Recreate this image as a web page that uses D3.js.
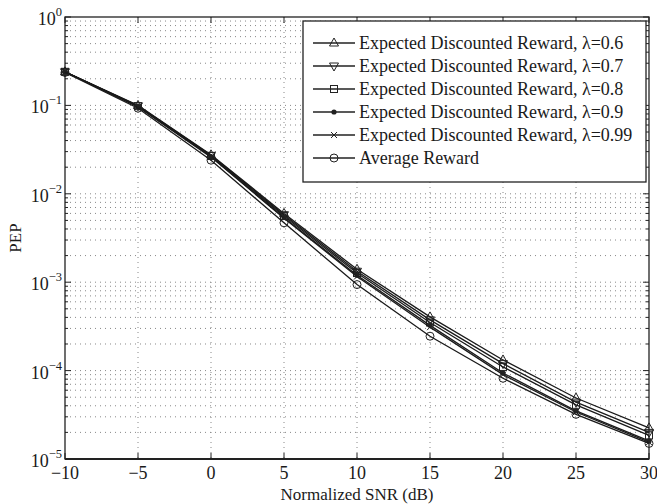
<!DOCTYPE html>
<html>
<head>
<meta charset="utf-8">
<script src="https://cdn.jsdelivr.net/npm/d3@7"></script>
<style>
  body { margin: 0; background: #fff; }
  text { font-family: "Liberation Serif", "Times New Roman", serif; fill: #1a1a1a; }
</style>
</head>
<body>
<div id="chart"></div>
<script>
// data
var snr = [-10, -5, 0, 5, 10, 15, 20, 25, 30];
var seriesNames = [
  "Expected Discounted Reward, λ=0.6",
  "Expected Discounted Reward, λ=0.7",
  "Expected Discounted Reward, λ=0.8",
  "Expected Discounted Reward, λ=0.9",
  "Expected Discounted Reward, λ=0.99",
  "Average Reward"
];
var markers = ["triUp", "triDown", "square", "dot", "cross", "circle"];
var pep06 = [0.240, 0.100, 0.0276, 0.0060, 0.00140, 0.000405, 1.32e-4, 4.9e-5, 2.25e-5];
var pep07 = [0.240, 0.099, 0.0272, 0.0058, 0.00133, 0.000375, 1.20e-4, 4.4e-5, 2.00e-5];
var pep08 = [0.240, 0.098, 0.0268, 0.0056, 0.00127, 0.000350, 1.10e-4, 4.1e-5, 1.85e-5];
var pep09 = [0.240, 0.097, 0.0264, 0.0054, 0.00120, 0.000325, 9.4e-5, 3.5e-5, 1.60e-5];
var pep099 = [0.240, 0.096, 0.0260, 0.0053, 0.00116, 0.000310, 9.0e-5, 3.4e-5, 1.55e-5];
var pepAvg = [0.236, 0.093, 0.0240, 0.0047, 0.00094, 0.000245, 8.2e-5, 3.2e-5, 1.50e-5];
var allSeries = [pep06, pep07, pep08, pep09, pep099, pepAvg];
var xTicks = [-10, -5, 0, 5, 10, 15, 20, 25, 30];
var yExps = [0, -1, -2, -3, -4, -5];

var width = 657, height = 504;
var margin = { top: 17, right: 8, bottom: 45, left: 65 };

var svg = d3.select("#chart").append("svg")
  .attr("width", width).attr("height", height);

var x = d3.scaleLinear().domain([-10, 30]).range([margin.left, width - margin.right]);
var y = d3.scaleLog().domain([1e-5, 1]).range([height - margin.bottom, margin.top]);

var x0 = x.range()[0], x1 = x.range()[1];
var yb = y.range()[0], yt = y.range()[1];

// grid
var minorVals = [];
for (var e = -5; e < 0; e++) {
  for (var m = 1; m <= 9; m++) minorVals.push(m * Math.pow(10, e));
}
minorVals.push(1);

svg.append("g").selectAll("line").data(minorVals.filter(function (v) { return v > 1e-5 && v < 1; }))
  .enter().append("line")
  .attr("x1", x0).attr("x2", x1)
  .attr("y1", function (d) { return y(d); }).attr("y2", function (d) { return y(d); })
  .attr("stroke", "#888").attr("stroke-width", 1)
  .attr("stroke-dasharray", "1,4");

svg.append("g").selectAll("line").data(xTicks.slice(1, -1))
  .enter().append("line")
  .attr("x1", function (d) { return x(d); }).attr("x2", function (d) { return x(d); })
  .attr("y1", yt).attr("y2", yb)
  .attr("stroke", "#888").attr("stroke-width", 1)
  .attr("stroke-dasharray", "1,4");

// tick marks
var tickG = svg.append("g").attr("stroke", "#222").attr("stroke-width", 1);
minorVals.forEach(function (v) {
  var isMajor = Math.abs(Math.log10(v) - Math.round(Math.log10(v))) < 1e-9;
  var len = isMajor ? 6 : 3;
  tickG.append("line").attr("x1", x0).attr("x2", x0 + len).attr("y1", y(v)).attr("y2", y(v));
  tickG.append("line").attr("x1", x1).attr("x2", x1 - len).attr("y1", y(v)).attr("y2", y(v));
});
xTicks.forEach(function (t) {
  tickG.append("line").attr("x1", x(t)).attr("x2", x(t)).attr("y1", yb).attr("y2", yb - 6);
  tickG.append("line").attr("x1", x(t)).attr("x2", x(t)).attr("y1", yt).attr("y2", yt + 6);
});

// box
svg.append("rect")
  .attr("x", x0).attr("y", yt).attr("width", x1 - x0).attr("height", yb - yt)
  .attr("fill", "none").attr("stroke", "#222").attr("stroke-width", 1.3);
svg.append("line").attr("x1", x0).attr("x2", x1).attr("y1", yb).attr("y2", yb)
  .attr("stroke", "#222").attr("stroke-width", 2);

// tick labels
svg.append("g").selectAll("text").data(xTicks).enter().append("text")
  .attr("x", function (d) { return x(d); })
  .attr("y", yb + 20)
  .attr("text-anchor", "middle")
  .attr("font-size", 18)
  .text(function (d) { return d < 0 ? "\u2212" + Math.abs(d) : d; });

var yLab = svg.append("g").selectAll("text").data(yExps).enter().append("text")
  .attr("x", x0 - 3)
  .attr("y", function (d) { return y(Math.pow(10, d)) + 8; })
  .attr("text-anchor", "end")
  .attr("font-size", 18);
yLab.append("tspan").text("10");
yLab.append("tspan").attr("dy", -9).attr("font-size", 12.5)
  .text(function (d) { return d < 0 ? "\u2212" + Math.abs(d) : d; });

// axis titles
svg.append("text")
  .attr("x", (x0 + x1) / 2).attr("y", 500)
  .attr("text-anchor", "middle").attr("font-size", 17)
  .text("Normalized SNR (dB)");
svg.append("text")
  .attr("transform", "translate(21," + (yt + yb) / 2 + ") rotate(-90)")
  .attr("text-anchor", "middle").attr("font-size", 17)
  .text("PEP");

// markers
var drawMarker = function (g, type, cx, cy) {
  var r = 4;
  if (type === "triUp") {
    g.append("path").attr("d", "M" + cx + "," + (cy - r - 1) + "L" + (cx + r + 0.5) + "," + (cy + r - 1) + "L" + (cx - r - 0.5) + "," + (cy + r - 1) + "Z")
      .attr("fill", "none").attr("stroke", "#222").attr("stroke-width", 1);
  } else if (type === "triDown") {
    g.append("path").attr("d", "M" + cx + "," + (cy + r + 1) + "L" + (cx + r + 0.5) + "," + (cy - r + 1) + "L" + (cx - r - 0.5) + "," + (cy - r + 1) + "Z")
      .attr("fill", "none").attr("stroke", "#222").attr("stroke-width", 1);
  } else if (type === "square") {
    g.append("rect").attr("x", cx - r + 0.5).attr("y", cy - r + 0.5).attr("width", 2 * r - 1).attr("height", 2 * r - 1)
      .attr("fill", "none").attr("stroke", "#222").attr("stroke-width", 1);
  } else if (type === "dot") {
    g.append("circle").attr("cx", cx).attr("cy", cy).attr("r", 2.6).attr("fill", "#222");
  } else if (type === "cross") {
    g.append("path").attr("d", "M" + (cx - 3) + "," + (cy - 3) + "L" + (cx + 3) + "," + (cy + 3) + "M" + (cx + 3) + "," + (cy - 3) + "L" + (cx - 3) + "," + (cy + 3))
      .attr("stroke", "#222").attr("stroke-width", 1);
  } else if (type === "circle") {
    g.append("circle").attr("cx", cx).attr("cy", cy).attr("r", r)
      .attr("fill", "none").attr("stroke", "#222").attr("stroke-width", 1);
  }
};

var line = d3.line()
  .x(function (d, i) { return x(snr[i]); })
  .y(function (d) { return y(d); });

allSeries.forEach(function (s, k) {
  var g = svg.append("g");
  g.append("path").datum(s).attr("d", line)
    .attr("fill", "none").attr("stroke", "#1a1a1a").attr("stroke-width", 1.3);
  s.forEach(function (v, i) { drawMarker(g, markers[k], x(snr[i]), y(v)); });
});

// legend
var lg = svg.append("g");
lg.append("rect").attr("x", 303).attr("y", 21).attr("width", 343).attr("height", 161)
  .attr("fill", "#fff").attr("stroke", "#222").attr("stroke-width", 1.3);
seriesNames.forEach(function (name, k) {
  var ly = 43 + k * 23;
  lg.append("line").attr("x1", 313).attr("x2", 355).attr("y1", ly).attr("y2", ly)
    .attr("stroke", "#222").attr("stroke-width", 1.3);
  drawMarker(lg, markers[k], 334, ly);
  var t = lg.append("text").attr("x", 359).attr("y", ly + 6).attr("font-size", 18);
  t.text(name);
});
</script>
</body>
</html>
